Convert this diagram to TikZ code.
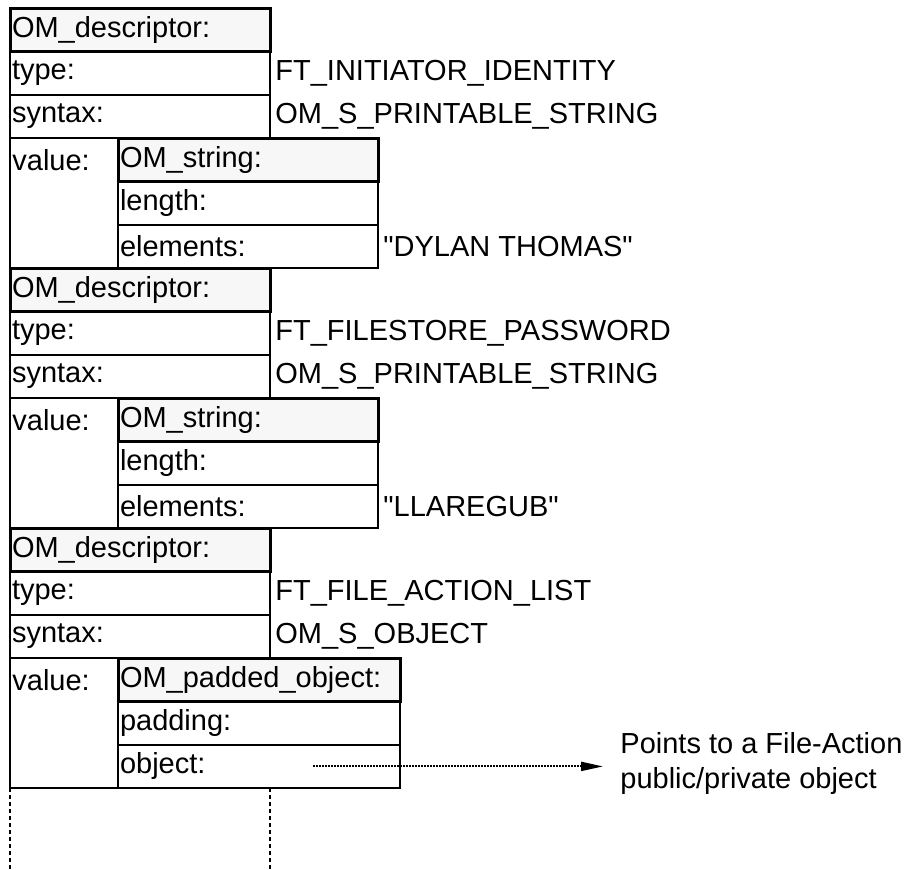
\documentclass[tikz,border=0pt]{standalone}
\usepackage{fontspec}
\setmainfont{Liberation Sans}
\usetikzlibrary{positioning,arrows.meta}

\begin{document}
\begin{tikzpicture}[node distance=0pt,font=\fontsize{14.5}{17.5}\selectfont,
   field/.style={draw,line width=1pt,minimum height=21.67pt,inner xsep=1pt,inner ysep=0pt,
     outer sep=0pt,text width=#1,align=left},
   field/.default=128pt,
   fieldhead/.style={field=#1,line width=1.5pt,fill=black!3},
   fieldhead/.default=128pt,
   valbox/.style={draw,line width=1pt,minimum width=54pt,minimum height=65pt,inner sep=0pt,outer sep=0pt,
     label={[anchor=north west,inner xsep=1pt,inner ysep=0pt,minimum height=21.67pt]north west:value:}},
   note/.style={inner xsep=2.5pt,inner ysep=0pt,anchor=west},
   dashline/.style={line width=1pt,dash pattern=on 2pt off 1.5pt}]
   \useasboundingbox (0,0) rectangle (452pt,-434.5pt);
   % first descriptor
   \node[fieldhead,anchor=north west] (h1) at (5pt,-4pt) {OM\_descriptor:};
   \node[field] (t1) [below=of h1] {type:};
   \node[field] (s1) [below=of t1] {syntax:};
   \node[valbox,anchor=north west] (v1) at (s1.south west) {};
   \node[fieldhead,anchor=north west] (oh1) at (v1.north east) {OM\_string:};
   \node[field] (l1) [below=of oh1] {length:};
   \node[field] (e1) [below=of l1] {elements:};
   \node[note] (ty1) [right=of t1] {FT\_INITIATOR\_IDENTITY};
   \node[note] (sy1) [right=of s1] {OM\_S\_PRINTABLE\_STRING};
   \node[note] (el1) [right=of e1] {\textquotedbl DYLAN THOMAS\textquotedbl};
   % second descriptor
   \node[fieldhead,anchor=north west] (h2) at (v1.south west) {OM\_descriptor:};
   \node[field] (t2) [below=of h2] {type:};
   \node[field] (s2) [below=of t2] {syntax:};
   \node[valbox,anchor=north west] (v2) at (s2.south west) {};
   \node[fieldhead,anchor=north west] (oh2) at (v2.north east) {OM\_string:};
   \node[field] (l2) [below=of oh2] {length:};
   \node[field] (e2) [below=of l2] {elements:};
   \node[note] (ty2) [right=of t2] {FT\_FILESTORE\_PASSWORD};
   \node[note] (sy2) [right=of s2] {OM\_S\_PRINTABLE\_STRING};
   \node[note] (el2) [right=of e2] {\textquotedbl LLAREGUB\textquotedbl};
   % third descriptor
   \node[fieldhead,anchor=north west] (h3) at (v2.south west) {OM\_descriptor:};
   \node[field] (t3) [below=of h3] {type:};
   \node[field] (s3) [below=of t3] {syntax:};
   \node[valbox,anchor=north west] (v3) at (s3.south west) {};
   \node[fieldhead=139pt,anchor=north west] (oh3) at (v3.north east) {OM\_padded\_object:};
   \node[field=139pt] (p3) [below=of oh3] {padding:};
   \node[field=139pt] (ob3) [below=of p3] {object:};
   \node[note] (ty3) [right=of t3] {FT\_FILE\_ACTION\_LIST};
   \node[note] (sy3) [right=of s3] {OM\_S\_OBJECT};
   % pointer to the object
   \coordinate (ptr) at ([xshift=-43.5pt]ob3.east);
   \node[note,inner xsep=0pt,align=left] (pts) [right=110pt of ob3,yshift=1.5pt]
     {Points to a File-Action\\public/private object};
   \draw[line width=1pt,dash pattern=on 0.8pt off 0.7pt,shorten >=8.5pt,
     -{Triangle[length=11pt,width=4.5pt]}] (ptr) -- (ptr -| pts.west);
   % list continues
   \coordinate (bl) at ([yshift=-41pt]v3.south west);
   \coordinate (br) at (bl -| s3.east);
   \draw[dashline] (v3.south west) -- (bl) (br |- v3.south) -- (br);
\end{tikzpicture}
\end{document}
